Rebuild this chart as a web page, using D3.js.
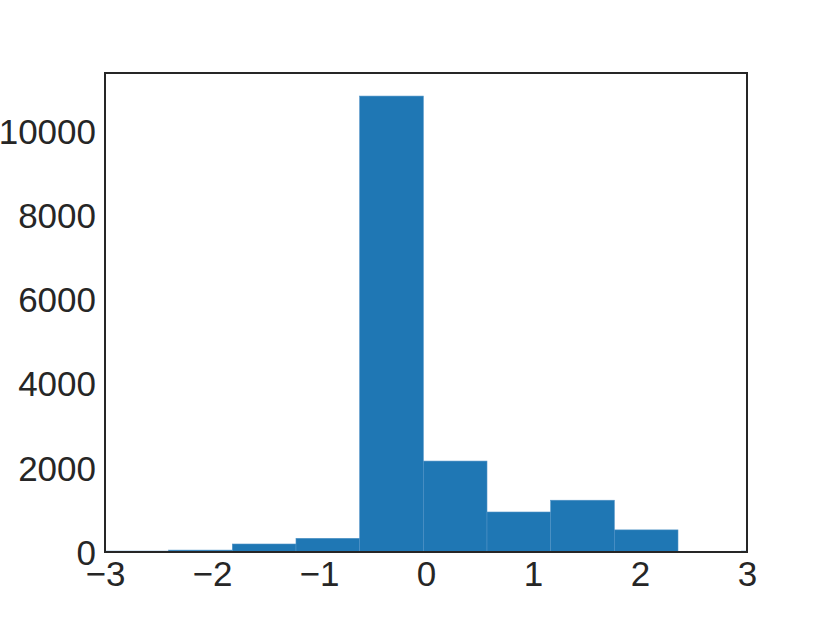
<!DOCTYPE html>
<html>
<head>
<meta charset="utf-8">
<script src="https://cdn.jsdelivr.net/npm/d3@7"></script>
<style>
  body { margin: 0; background: #fff; }
  text { font-family: "Liberation Sans", Arial, sans-serif; fill: #262626; }
</style>
</head>
<body>
<div class="hist"></div>
<script>
// histogram bins (edges) and counts
const binEdges = [-3.0, -2.405, -1.81, -1.215, -0.62, -0.025, 0.57, 1.165, 1.76, 2.355, 2.95, 3.545]
const counts = [22, 45, 190, 325, 10830, 2160, 950, 1230, 525, 0, 22]
const xTicks = [-3, -2, -1, 0, 1, 2, 3]
const yTicks = [0, 2000, 4000, 6000, 8000, 10000]

let width = 830
let height = 622
let margin = {left: 105, right: 83, top: 73, bottom: 70}

let svg = d3.select(".hist")
    .append("svg")
    .attr("width", width)
    .attr("height", height)

let x = d3.scaleLinear()
    .domain([-3, 3])
    .range([margin.left, width - margin.right])

let y = d3.scaleLinear()
    .domain([0, 11378])
    .range([height - margin.bottom, margin.top])

// clip bars to the axes box
svg.append("clipPath")
    .attr("id", "plotclip")
    .append("rect")
    .attr("x", margin.left)
    .attr("y", margin.top)
    .attr("width", width - margin.left - margin.right)
    .attr("height", height - margin.top - margin.bottom)

let bins = counts.map((c, i) => ({x0: binEdges[i], x1: binEdges[i + 1], count: c}))

svg.append("g")
    .attr("clip-path", "url(#plotclip)")
    .selectAll("rect")
    .data(bins.filter(d => d.count > 0))
    .enter()
    .append("rect")
    .attr("x", d => x(d.x0))
    .attr("width", d => x(d.x1) - x(d.x0))
    .attr("y", d => y(d.count))
    .attr("height", d => y(0) - y(d.count))
    .attr("fill", "#1f77b4")
    .attr("stroke", "#4f92c6")
    .attr("stroke-width", 0.6)

// x axis labels (no tick marks)
let xAxis = d3.axisBottom(x)
    .tickValues(xTicks)
    .tickSize(0)
    .tickPadding(0)
    .tickFormat(d => d < 0 ? "\u2212" + Math.abs(d) : d)

let gx = svg.append("g")
    .attr("transform", "translate(0," + y(0) + ")")
    .call(xAxis)
gx.select(".domain").remove()
gx.selectAll("text")
    .attr("dy", null)
    .attr("y", 34)
    .style("font-size", "35px")
    .style("font-family", "Liberation Sans, Arial, sans-serif")
    .attr("fill", "#262626")

let yAxis = d3.axisLeft(y)
    .tickValues(yTicks)
    .tickSize(0)
    .tickPadding(9)
    .tickFormat(d3.format("d"))

let gy = svg.append("g")
    .attr("transform", "translate(" + margin.left + ",0)")
    .call(yAxis)
gy.select(".domain").remove()
gy.selectAll("text")
    .attr("dy", "0.35em")
    .style("font-size", "35px")
    .style("font-family", "Liberation Sans, Arial, sans-serif")
    .attr("fill", "#262626")

// frame
svg.append("rect")
    .attr("x", margin.left)
    .attr("y", margin.top)
    .attr("width", width - margin.left - margin.right)
    .attr("height", height - margin.top - margin.bottom)
    .attr("fill", "none")
    .attr("stroke", "#262626")
    .attr("stroke-width", 2)
</script>
</body>
</html>
